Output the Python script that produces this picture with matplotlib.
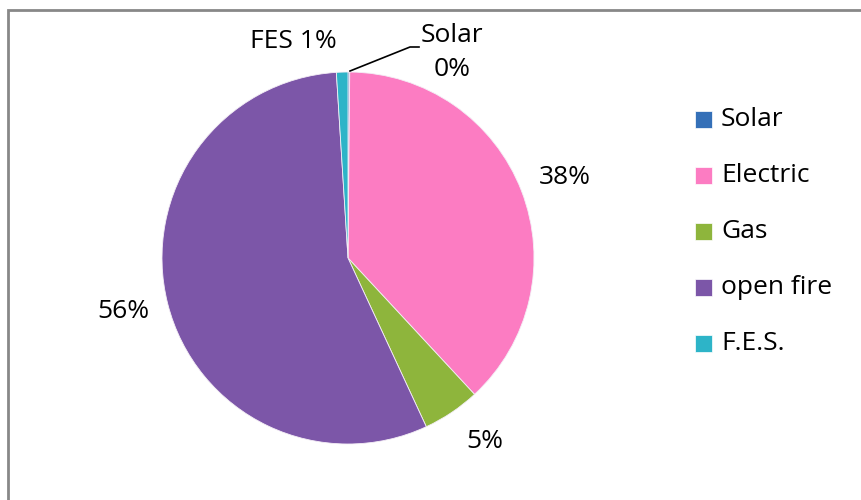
import matplotlib.pyplot as plt
from matplotlib.patches import Rectangle

names = ['Solar', 'Electric', 'Gas', 'open fire', 'F.E.S.']
values = [0.15, 38, 5, 56, 1]
pct_text = ['0%', '38%', '5%', '56%', '1%']
colors = ['#3470b8', '#fc7cc2', '#8eb53c', '#7c56a8', '#2db4c8']

plt.rcParams['font.family'] = ['Open Sans', 'DejaVu Sans']

W, H = 861, 500
fig = plt.figure(figsize=(W / 100, H / 100), dpi=100)
ax = fig.add_axes([0, 0, 1, 1])


def Y(y):
    # image pixel row -> axes y (y axis points up)
    return H - y


# outer frame (runs off the right / bottom of the image)
fig.patches.append(Rectangle((8 / W, -0.1), 1.1, 1 - 10 / H + 0.1, transform=fig.transFigure,
                             fill=False, edgecolor='#888888', linewidth=2))

wedges, _ = ax.pie(values, colors=colors, startangle=90, counterclock=False,
                   center=(348, Y(258)), radius=186, frame=True,
                   wedgeprops=dict(edgecolor='#f4eef6', linewidth=0.6))
ax.set_xlim(0, W)
ax.set_ylim(0, H)
ax.set_aspect('equal')
ax.axis('off')

# data labels
fs = 19
ax.text(565, Y(178), pct_text[1], ha='center', va='center', fontsize=fs)
ax.text(485, Y(442), pct_text[2], ha='center', va='center', fontsize=fs)
ax.text(123, Y(312), pct_text[3], ha='center', va='center', fontsize=fs)
ax.text(293, Y(42), 'FES ' + pct_text[4], ha='center', va='center', fontsize=fs)
ax.text(452, Y(35), 'Solar', ha='center', va='center', fontsize=fs)
ax.text(452, Y(70), pct_text[0], ha='center', va='center', fontsize=fs)
ax.plot([350, 410, 419], [Y(71), Y(47), Y(47)], color='black', linewidth=1.2)

# legend
for i, (name, c) in enumerate(zip(names, colors)):
    yc = 119 + i * 56
    ax.add_patch(Rectangle((695, Y(yc) - 8.5), 17, 17, facecolor=c, edgecolor='#ffffff', linewidth=0.5))
    ax.text(721, Y(yc), name, ha='left', va='center', fontsize=fs)

fig.savefig('out.png', dpi=100)
